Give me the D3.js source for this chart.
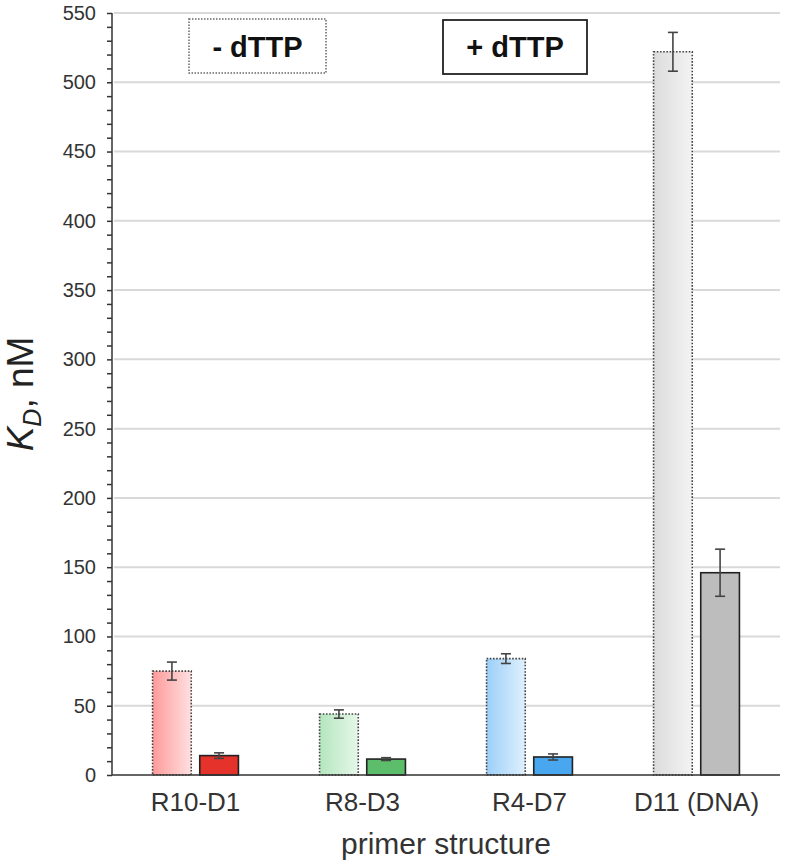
<!DOCTYPE html>
<html>
<head>
<meta charset="utf-8">
<script src="https://cdn.jsdelivr.net/npm/d3@7"></script>
<style>
  html, body { margin: 0; padding: 0; background: #fff; }
  svg { display: block; font-family: "Liberation Sans", Arial, sans-serif; }
</style>
</head>
<body>
<svg id="chart" width="785" height="865"></svg>
<script>
const categories = ["R10-D1", "R8-D3", "R4-D7", "D11 (DNA)"];
const conditions = ["- dTTP", "+ dTTP"];
const minusValues = [75, 44, 84, 522];
const minusErrors = [6.5, 3, 3.5, 14];
const plusValues = [14, 11.5, 13, 146];
const plusErrors = [2, 1, 2.2, 17];
const lightFrom = ["#ff9a9a", "#b4e6be", "#9bcff8", "#dcdcdc"];
const lightTo = ["#ffe0e0", "#e6f7e9", "#e0f0fd", "#f3f3f3"];
const darkColors = ["#e5322a", "#5cbd6a", "#48a7ef", "#bdbdbd"];
const yTicks = [0, 50, 100, 150, 200, 250, 300, 350, 400, 450, 500, 550];

(function () {
const svg = d3.select("#chart");
const pLeft = 112, pRight = 780, pTop = 13, pBottom = 775;

const y = d3.scaleLinear().domain([0, 550]).range([pBottom, pTop]);
const x0 = d3.scaleBand().domain(categories).range([pLeft, pRight]).padding(0);
const x1 = d3.scaleBand().domain(conditions).range([0, x0.bandwidth()])
  .paddingInner(0.18).paddingOuter(0.86);

// gradients
const defs = svg.append("defs");
categories.forEach((c, i) => {
  const g = defs.append("linearGradient").attr("id", "lg" + i)
    .attr("x1", "0%").attr("x2", "100%").attr("y1", "0%").attr("y2", "0%");
  g.append("stop").attr("offset", "0%").attr("stop-color", lightFrom[i]);
  g.append("stop").attr("offset", "100%").attr("stop-color", lightTo[i]);
});

// gridlines
svg.append("g").selectAll("line").data(yTicks.filter(d => d > 0)).join("line")
  .attr("x1", pLeft + 2).attr("x2", pRight)
  .attr("y1", d => y(d)).attr("y2", d => y(d))
  .attr("stroke", "#d9d9d9").attr("stroke-width", 2);

// y axis
const yAxis = d3.axisLeft(y).tickValues(d3.range(0, 551, 10)).tickSize(5)
  .tickFormat(d => d % 50 === 0 ? d : "");
const ya = svg.append("g").attr("transform", `translate(${pLeft},0)`).call(yAxis);
ya.select(".domain").attr("stroke", "#333").attr("stroke-width", 1.5).attr("d", `M0,${pTop}V${pBottom}`);
ya.selectAll(".tick line").attr("stroke", "#333").attr("stroke-width", 1.5);
ya.selectAll(".tick text").attr("x", -16).attr("font-size", 20).attr("fill", "#333")
  .attr("font-family", "Liberation Sans, Arial, sans-serif");

const rows = categories.map((c, i) => ({
  cat: c, i,
  vals: [
    { cond: conditions[0], v: minusValues[i], e: minusErrors[i], light: true, i },
    { cond: conditions[1], v: plusValues[i], e: plusErrors[i], light: false, i }
  ]
}));

const groups = svg.append("g").selectAll("g").data(rows).join("g")
  .attr("transform", d => `translate(${x0(d.cat)},0)`);

groups.selectAll("rect").data(d => d.vals).join("rect")
  .attr("x", d => x1(d.cond))
  .attr("width", x1.bandwidth())
  .attr("y", d => y(d.v))
  .attr("height", d => y(0) - y(d.v))
  .attr("fill", d => d.light ? `url(#lg${d.i})` : darkColors[d.i])
  .attr("stroke", d => d.light ? "#444" : "#222")
  .attr("stroke-width", 1.6)
  .attr("stroke-dasharray", d => d.light ? "1.6,1.6" : null);

// error bars
const eb = groups.selectAll("g.err").data(d => d.vals).join("g").attr("class", "err")
  .attr("stroke", "#444").attr("stroke-width", 1.6);
const cx = d => x1(d.cond) + x1.bandwidth() / 2;
eb.append("line")
  .attr("x1", cx).attr("x2", cx)
  .attr("y1", d => y(d.v + d.e)).attr("y2", d => y(d.v - d.e));
eb.append("line")
  .attr("x1", d => cx(d) - 5).attr("x2", d => cx(d) + 5)
  .attr("y1", d => y(d.v + d.e)).attr("y2", d => y(d.v + d.e));
eb.append("line")
  .attr("x1", d => cx(d) - 5).attr("x2", d => cx(d) + 5)
  .attr("y1", d => y(d.v - d.e)).attr("y2", d => y(d.v - d.e));

// x axis
const xAxis = d3.axisBottom(x0).tickSize(0).tickPadding(0);
const xa = svg.append("g").attr("transform", `translate(0,${pBottom})`).call(xAxis);
xa.select(".domain").attr("stroke", "#333").attr("stroke-width", 1.5).attr("d", `M${pLeft},0H${pRight}`);
xa.selectAll(".tick text").attr("y", 36).attr("dy", null).attr("font-size", 26).attr("fill", "#333")
  .attr("font-family", "Liberation Sans, Arial, sans-serif");

// axis titles
svg.append("text").attr("x", (pLeft + pRight) / 2).attr("y", 854).attr("text-anchor", "middle")
  .attr("font-size", 30).attr("fill", "#333").text("primer structure");

const yl = svg.append("text").attr("transform", "translate(33,394) rotate(-90)")
  .attr("text-anchor", "middle").attr("font-size", 37).attr("fill", "#222");
yl.append("tspan").attr("font-style", "italic").text("K");
yl.append("tspan").attr("font-style", "italic").attr("font-size", 25).attr("dy", 8).text("D");
yl.append("tspan").attr("dy", -8).text(", nM");

// legend boxes
const legendBoxes = [
  { label: conditions[0], x: 189, y: 19, w: 137, h: 54, dotted: true },
  { label: conditions[1], x: 443, y: 20, w: 144, h: 54, dotted: false }
];
const lg = svg.append("g").selectAll("g").data(legendBoxes).join("g");
lg.append("rect").attr("x", d => d.x).attr("y", d => d.y).attr("width", d => d.w).attr("height", d => d.h)
  .attr("fill", "#fff").attr("stroke", d => d.dotted ? "#666" : "#222")
  .attr("stroke-width", d => d.dotted ? 1.5 : 1.8)
  .attr("stroke-dasharray", d => d.dotted ? "1.5,1.5" : null);
lg.append("text").attr("x", d => d.x + d.w / 2).attr("y", 57).attr("text-anchor", "middle")
  .attr("font-size", 29).attr("font-weight", "bold").attr("fill", "#111").text(d => d.label);
})();
</script>
</body>
</html>
